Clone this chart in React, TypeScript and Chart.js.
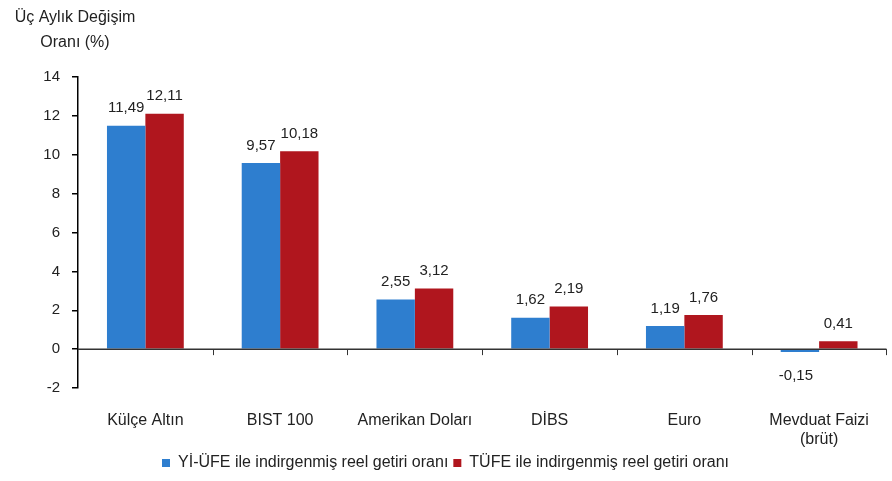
import React, { useEffect, useRef } from "react";
import { Chart, registerables } from "chart.js";

Chart.register(...registerables);

const categories: (string | string[])[] = [
  "Külçe Altın",
  "BIST 100",
  "Amerikan Doları",
  "DİBS",
  "Euro",
  ["Mevduat Faizi", "(brüt)"],
];
const yiUfeValues = [11.49, 9.57, 2.55, 1.62, 1.19, -0.15];
const tufeValues = [12.11, 10.18, 3.12, 2.19, 1.76, 0.41];
const seriesNames = [
  "Yİ-ÜFE ile indirgenmiş reel getiri oranı",
  "TÜFE ile indirgenmiş reel getiri oranı",
];
const titleLines = ["Üç Aylık Değişim", "Oranı (%)"];
const yMin = -2;
const yMax = 14;
const yStep = 2;

const FONT = "'Liberation Sans', Arial, sans-serif";
const TEXT = "#222222";
const BLUE = "#2E7ECF";
const RED = "#B0161E";

const fmt = (v: number) => v.toFixed(2).replace(".", ",");

const overlayPlugin = {
  id: "overlay",
  afterDatasetsDraw(chart: any) {
    const ctx = chart.ctx;
    const { left, right } = chart.chartArea;
    const x = chart.scales.x;
    const y = chart.scales.y;
    const y0 = y.getPixelForValue(0);
    ctx.save();
    // zero line
    ctx.strokeStyle = "#333333";
    ctx.lineWidth = 1.5;
    ctx.beginPath();
    ctx.moveTo(left, y0);
    ctx.lineTo(right, y0);
    ctx.stroke();
    // category boundary ticks
    const n = categories.length;
    ctx.lineWidth = 1;
    for (let i = 0; i < n; i++) {
      const a = x.getPixelForValue(i);
      const b = i < n - 1 ? x.getPixelForValue(i + 1) : a + (a - x.getPixelForValue(i - 1));
      const bx = Math.round((a + b) / 2) + 0.5;
      ctx.beginPath();
      ctx.moveTo(bx, y0);
      ctx.lineTo(bx, y0 + 6);
      ctx.stroke();
    }
    // data labels
    ctx.fillStyle = TEXT;
    ctx.font = `15px ${FONT}`;
    ctx.textAlign = "center";
    chart.data.datasets.forEach((ds: any, di: number) => {
      const meta = chart.getDatasetMeta(di);
      meta.data.forEach((el: any, i: number) => {
        const v = ds.data[i] as number;
        if (v >= 0) {
          ctx.textBaseline = "bottom";
          ctx.fillText(fmt(v), el.x, el.y - 10);
        } else {
          ctx.textBaseline = "top";
          ctx.fillText(fmt(v), el.x - 4, el.y + 16);
        }
      });
    });
    // title
    ctx.font = `16px ${FONT}`;
    ctx.textBaseline = "middle";
    ctx.fillText(titleLines[0], 75, 18);
    ctx.fillText(titleLines[1], 75, 43);
    ctx.restore();
  },
};

export default function App() {
  const ref = useRef<HTMLCanvasElement | null>(null);
  useEffect(() => {
    document.body.style.margin = "0";
    const chart = new Chart(ref.current as HTMLCanvasElement, {
      type: "bar",
      data: {
        labels: categories,
        datasets: [
          {
            label: seriesNames[0],
            data: yiUfeValues,
            backgroundColor: BLUE,
            borderWidth: 0,
          },
          {
            label: seriesNames[1],
            data: tufeValues,
            backgroundColor: RED,
            borderWidth: 0,
          },
        ],
      },
      options: {
        animation: false,
        responsive: false,
        maintainAspectRatio: false,
        layout: { padding: { top: 77, right: 1, left: 0, bottom: 0 } },
        datasets: {
          bar: { categoryPercentage: 0.57, barPercentage: 1 },
        },
        plugins: {
          legend: {
            position: "bottom",
            labels: {
              boxWidth: 8,
              boxHeight: 8,
              color: TEXT,
              font: { family: FONT, size: 16 },
              padding: 5,
            },
          },
          tooltip: { enabled: false },
          title: { display: false },
        },
        scales: {
          x: {
            grid: { display: false, drawTicks: false },
            border: { display: false },
            ticks: {
              color: TEXT,
              font: { family: FONT, size: 16 },
              padding: 23,
              maxRotation: 0,
              autoSkip: false,
            },
            afterFit: (s: any) => {
              s.height = 62;
            },
          },
          y: {
            min: yMin,
            max: yMax,
            grid: {
              drawOnChartArea: false,
              drawTicks: true,
              tickLength: 6,
              color: "#000000",
              lineWidth: 1.5,
            },
            border: { display: true, color: "#000000", width: 1.5 },
            ticks: {
              stepSize: yStep,
              color: TEXT,
              font: { family: FONT, size: 15 },
              padding: 12,
            },
            afterFit: (s: any) => {
              s.width = 78;
            },
          },
        },
      } as any,
      plugins: [overlayPlugin],
    });
    return () => chart.destroy();
  }, []);
  return (
    <div style={{ width: 892, height: 481, background: "#fff" }}>
      <canvas ref={ref} width={892} height={481} />
    </div>
  );
}
